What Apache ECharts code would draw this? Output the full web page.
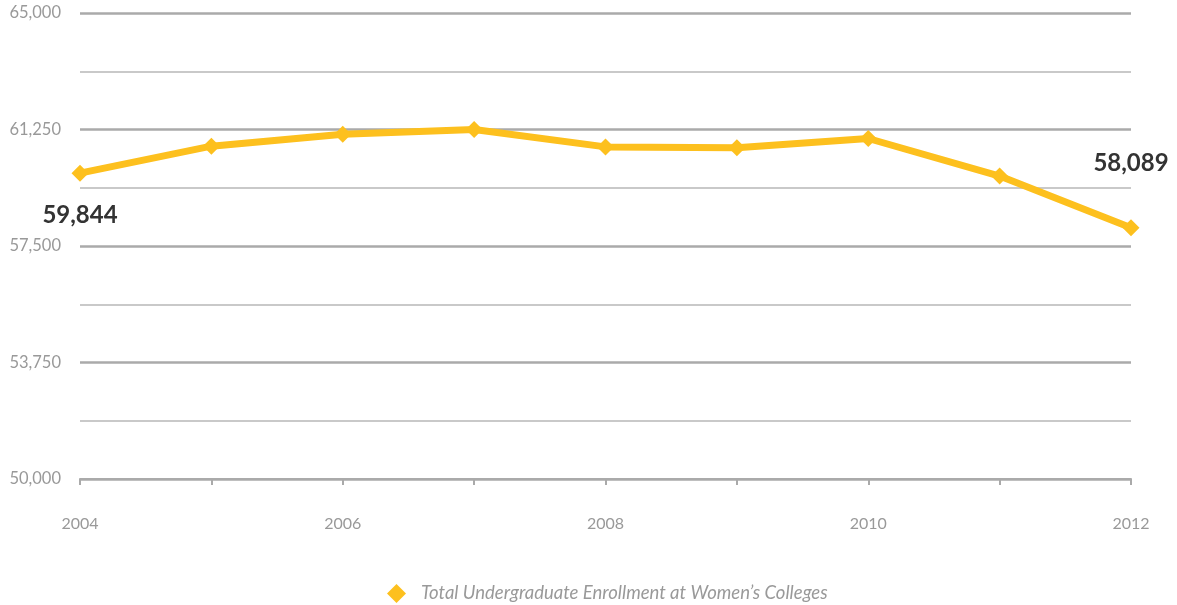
<!DOCTYPE html>
<html>
<head>
<meta charset="utf-8">
<script src="https://cdn.jsdelivr.net/npm/echarts@6/dist/echarts.min.js"></script>
<style>html,body{margin:0;padding:0;background:#fff}#c{width:1177px;height:605px}</style>
</head>
<body>
<div id="c"></div>
<script>
var years = ['2004','2005','2006','2007','2008','2009','2010','2011','2012'];
var enrollment = [59844, 60714, 61100, 61250, 60690, 60660, 60960, 59750, 58089];
var seriesName = 'Total Undergraduate Enrollment at Women\u2019s Colleges';
var yMin = 50000, yMax = 65000, yStep = 3750;

var font = 'Lato, "Source Sans Pro", "Noto Sans", sans-serif';
var chart = echarts.init(document.getElementById('c'));
var lastIdx = enrollment.length - 1;
var seriesData = enrollment.map(function (v, i) {
  if (i === 0) {
    return { value: v, label: { show: true, position: 'bottom', distance: 22 } };
  }
  if (i === lastIdx) {
    return { value: v, label: { show: true, position: 'top', distance: 44 } };
  }
  return v;
});

chart.setOption({
  animation: false,
  textStyle: { fontFamily: font },
  grid: { left: 80, right: 46, top: 13, bottom: 126, containLabel: false },
  legend: {
    top: 579,
    left: 382,
    icon: 'diamond',
    itemWidth: 19,
    itemHeight: 19,
    itemGap: 10,
    textStyle: { color: '#999', fontStyle: 'italic', fontSize: 18.5, fontFamily: font, padding: [0, 0, 0, 10] },
    data: [seriesName]
  },
  xAxis: {
    type: 'category',
    data: years,
    boundaryGap: false,
    axisLine: { lineStyle: { color: '#aaa', width: 2 } },
    axisTick: { show: true, interval: 0, length: 6, lineStyle: { color: '#aaa', width: 2 } },
    axisLabel: { interval: 1, color: '#999', fontSize: 16, margin: 37, fontFamily: font },
    splitLine: { show: false }
  },
  yAxis: {
    type: 'value',
    min: yMin,
    max: yMax,
    interval: yStep,
    axisLine: { show: false },
    axisTick: { show: false },
    axisLabel: {
      color: '#999', fontSize: 16.5, margin: 19, fontFamily: font,
      formatter: function (v) { return v.toLocaleString('en-US'); }
    },
    splitLine: { show: true, lineStyle: { color: '#aaa', width: 2.5 } },
    minorTick: { show: false, splitNumber: 2 },
    minorSplitLine: { show: true, lineStyle: { color: '#b8b8b8', width: 1.5 } }
  },
  series: [{
    name: seriesName,
    type: 'line',
    data: seriesData,
    symbol: 'diamond',
    symbolSize: 17,
    showAllSymbol: true,
    itemStyle: { color: '#FDC01E' },
    lineStyle: { color: '#FDC01E', width: 7 },
    label: {
      show: false,
      color: '#333',
      fontSize: 24,
      fontWeight: 'bold',
      fontFamily: font,
      formatter: function (p) { return p.value.toLocaleString('en-US'); }
    },
    z: 3
  }]
});
</script>
</body>
</html>
